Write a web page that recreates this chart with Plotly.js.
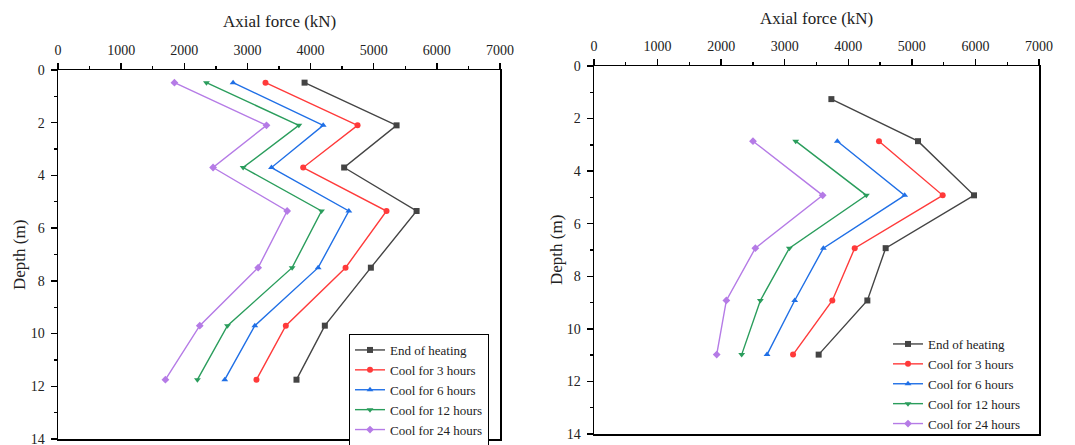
<!DOCTYPE html>
<html>
<head>
<meta charset="utf-8">
<script src="https://cdn.plot.ly/plotly-3.0.1.min.js"></script>
<style>html,body{margin:0;padding:0;background:#fff;}#chart{width:1075px;height:445px;}</style>
</head>
<body>
<div id="chart"></div>
<script>
// Series names
const seriesNames = ["End of heating", "Cool for 3 hours", "Cool for 6 hours", "Cool for 12 hours", "Cool for 24 hours"];

// Left panel depths (m)
const depthLeft = [0.48, 2.1, 3.7, 5.35, 7.5, 9.7, 11.75];
// Left panel axial force (kN)
const leftEnd  = [3905, 5362, 4532, 5679, 4955, 4226, 3777];
const left3h   = [3286, 4744, 3883, 5203, 4554, 3608, 3143];
const left6h   = [2773, 4200, 3381, 4606, 4120, 3117, 2641];
const left12h  = [2351, 3814, 2932, 4173, 3708, 2684, 2208];
const left24h  = [1844, 3302, 2456, 3629, 3170, 2245, 1701];

// Right panel depths (m)
const depthRightEnd  = [1.26, 2.86, 4.92, 6.93, 8.92, 10.98];
const depthRightCool = [2.86, 4.92, 6.93, 8.92, 10.98];
// Right panel axial force (kN)
const rightEnd  = [3734, 5097, 5978, 4588, 4300, 3534];
const right3h   = [4483, 5485, 4101, 3749, 3131];
const right6h   = [3828, 4887, 3608, 3157, 2722];
const right12h  = [3173, 4284, 3073, 2617, 2323];
const right24h  = [2501, 3597, 2538, 2082, 1930];

// Axis ticks
const xTicks = [0, 1000, 2000, 3000, 4000, 5000, 6000, 7000];
const yTicks = [0, 2, 4, 6, 8, 10, 12, 14];

const colors  = ["#444444", "#ff3a3a", "#1f6fe6", "#2a9d5c", "#b57be6"];
const symbols = ["square", "circle", "triangle-up", "triangle-down", "diamond"];
const FONT = 'Liberation Serif';

const leftData = [leftEnd, left3h, left6h, left12h, left24h];
const rightData = [rightEnd, right3h, right6h, right12h, right24h];

const traces = [];
leftData.forEach((xs, i) => {
  traces.push({
    x: xs, y: depthLeft, xaxis: 'x', yaxis: 'y', type: 'scatter', mode: 'lines+markers',
    name: seriesNames[i], legend: 'legend',
    line: {color: colors[i], width: 1.4},
    marker: {color: colors[i], symbol: symbols[i], size: 6}
  });
});
rightData.forEach((xs, i) => {
  traces.push({
    x: xs, y: i === 0 ? depthRightEnd : depthRightCool, xaxis: 'x2', yaxis: 'y2', type: 'scatter', mode: 'lines+markers',
    name: seriesNames[i], legend: 'legend2',
    line: {color: colors[i], width: 1.4},
    marker: {color: colors[i], symbol: symbols[i], size: 6}
  });
});

function xAxis(domain, anchor) {
  return {
    domain: domain, anchor: anchor, side: 'top', range: [0, 7000],
    tickvals: xTicks, ticks: 'outside', ticklen: 6, tickwidth: 1.3, tickcolor: '#000',
    minor: {dtick: 500, ticks: 'outside', ticklen: 3, tickwidth: 1.3, tickcolor: '#000'},
    showline: true, linecolor: '#000', linewidth: 1.5, mirror: true,
    showgrid: false, zeroline: false, ticklabelstandoff: 2,
    tickfont: {family: FONT, size: 14, color: '#222'}
  };
}
function yAxis(domain, anchor) {
  return {
    domain: domain, anchor: anchor, range: [14, 0],
    tickvals: yTicks, ticks: 'outside', ticklen: 6, tickwidth: 1.3, tickcolor: '#000',
    minor: {dtick: 1, ticks: 'outside', ticklen: 3, tickwidth: 1.3, tickcolor: '#000'},
    showline: true, linecolor: '#000', linewidth: 1.5, mirror: true,
    showgrid: false, zeroline: false, ticklabelstandoff: 3, ticklabeloverflow: 'allow',
    tickfont: {family: FONT, size: 14, color: '#222'}
  };
}

const H = 445, W = 1075;
const layout = {
  width: W, height: H,
  margin: {l: 0, r: 0, t: 0, b: 0, autoexpand: false},
  paper_bgcolor: '#fff', plot_bgcolor: '#fff',
  font: {family: FONT, color: '#222'},
  xaxis: xAxis([58/W, 500/W], 'y'),
  yaxis: yAxis([(H-439)/H, (H-70)/H], 'x'),
  xaxis2: xAxis([594/W, 1039/W], 'y2'),
  yaxis2: yAxis([(H-434)/H, (H-66)/H], 'x2'),
  legend: {
    x: 349/W, y: (H-334)/H, xanchor: 'left', yanchor: 'top',
    bordercolor: '#000', borderwidth: 1, bgcolor: '#fff',
    font: {family: FONT, size: 13, color: '#222'},
    tracegroupgap: 0, itemwidth: 30
  },
  legend2: {
    x: 888/W, y: (H-329)/H, xanchor: 'left', yanchor: 'top',
    bordercolor: '#ddd', borderwidth: 0, bgcolor: 'rgba(255,255,255,0)',
    font: {family: FONT, size: 13, color: '#222'},
    tracegroupgap: 0, itemwidth: 30
  },
  annotations: [
    {text: 'Axial force (kN)', xref: 'paper', yref: 'paper', x: 279/W, y: (H-22)/H, showarrow: false, xanchor: 'center', yanchor: 'middle', font: {family: FONT, size: 17, color: '#222'}},
    {text: 'Axial force (kN)', xref: 'paper', yref: 'paper', x: 816/W, y: (H-18)/H, showarrow: false, xanchor: 'center', yanchor: 'middle', font: {family: FONT, size: 17, color: '#222'}},
    {text: 'Depth (m)', xref: 'paper', yref: 'paper', x: 19/W, y: (H-255)/H, showarrow: false, textangle: -90, xanchor: 'center', yanchor: 'middle', font: {family: FONT, size: 17, color: '#222'}},
    {text: 'Depth (m)', xref: 'paper', yref: 'paper', x: 556/W, y: (H-250)/H, showarrow: false, textangle: -90, xanchor: 'center', yanchor: 'middle', font: {family: FONT, size: 17, color: '#222'}}
  ]
};

Plotly.newPlot('chart', traces, layout, {displayModeBar: false, staticPlot: true});
</script>
</body>
</html>
